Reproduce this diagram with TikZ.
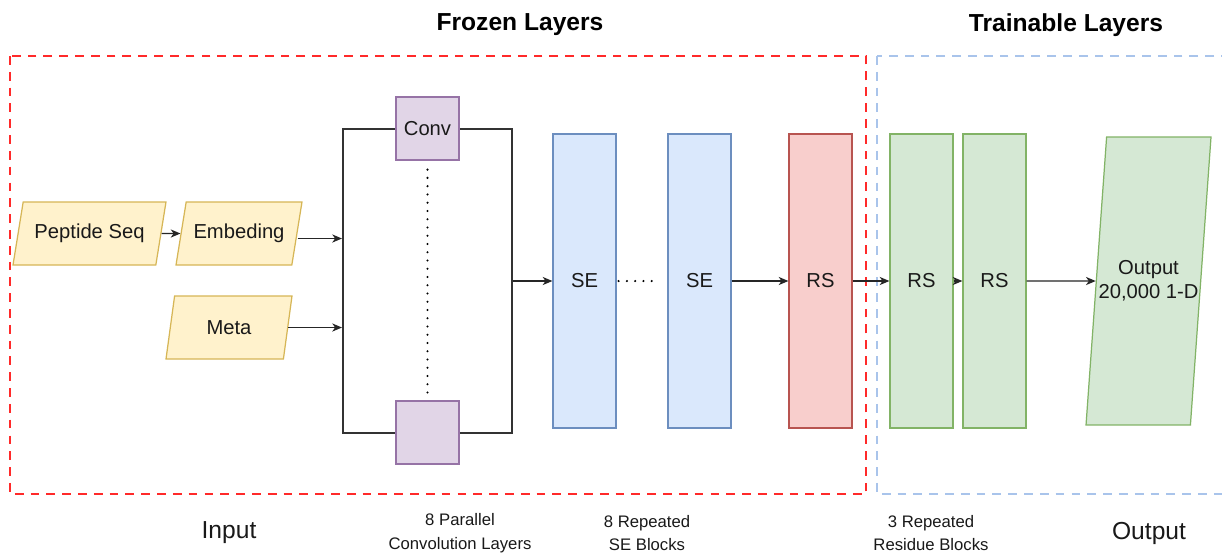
\documentclass[tikz,border=0pt]{standalone}
\usepackage{fontspec}
\setmainfont{Liberation Sans}
\usepackage{tikz}
\usetikzlibrary{shapes.geometric, arrows.meta}

\definecolor{yfill}{HTML}{FFF2CC}
\definecolor{ydraw}{HTML}{D6B656}
\definecolor{pfill}{HTML}{E1D5E7}
\definecolor{pdraw}{HTML}{9673A6}
\definecolor{bfill}{HTML}{DAE8FC}
\definecolor{bdraw}{HTML}{6C8EBF}
\definecolor{rfill}{HTML}{F8CECC}
\definecolor{rdraw}{HTML}{B85450}
\definecolor{gfill}{HTML}{D5E8D4}
\definecolor{gdraw}{HTML}{82B366}
\definecolor{frozenline}{HTML}{FF2A2A}
\definecolor{trainline}{HTML}{A9C4EB}

\tikzset{
    boxtext/.style={font=\fontsize{11.5}{13.5}\selectfont, text=black!90},
    iobox/.style={boxtext, draw=ydraw, fill=yfill, line width=0.7pt,
        trapezium, trapezium left angle=71.6, trapezium right angle=108.4,
        trapezium stretches body=true, inner xsep=-3pt,
        minimum height=1.26cm},
    layer/.style={boxtext, line width=0.7pt, minimum width=1.26cm, minimum height=5.88cm},
    arr/.style={-{Stealth[length=5.5pt, width=4.6pt, inset=1.6pt]}, line width=0.8pt, black!85},
    dots/.style={line width=1.3pt, line cap=round, dash pattern=on 0pt off 4.7pt},
    caption/.style={font=\fontsize{9.5}{13.6}\selectfont, align=center, text=black!90},
    bigcaption/.style={font=\fontsize{14}{16}\selectfont, text=black!90},
    title/.style={font=\fontsize{14}{16}\selectfont\bfseries}
}

\begin{document}
\begin{tikzpicture}[x=0.02cm, y=-0.02cm]
            \fill[white] (0, 0) rectangle (1222, 556);
            \useasboundingbox (0, 0) rectangle (1222, 556);
            % regions
            \draw[frozenline, line width=0.8pt, dash pattern=on 5pt off 4pt] (10, 56) rectangle (866, 494);
            \draw[trainline, line width=0.8pt, dash pattern=on 5pt off 4pt] (877, 56) rectangle (1240, 494);
            \node[title] (frozen) at (520, 25) {Frozen Layers};
            \node[title] (trainable) at (1066, 25) {Trainable Layers};
            % input
            \node[iobox, minimum width=3.06cm] (pep) at (89.5, 233.5) {Peptide Seq};
            \node[iobox, minimum width=2.52cm] (embed) at (239, 233.5) {Embeding};
            \node[iobox, minimum width=2.52cm] (meta) at (229, 327.5) {Meta};
            % parallel convolutions
            \node[draw=black!80, line width=1.2pt, minimum width=3.38cm, minimum height=6.08cm] (frame) at (427.5, 281) {};
            \node[boxtext, draw=pdraw, fill=pfill, line width=0.7pt, minimum size=1.26cm] (conv1) at (427.5, 128.5) {Conv};
            \node[draw=pdraw, fill=pfill, line width=0.7pt, minimum size=1.26cm] (conv2) at (427.5, 432.5) {};
            \draw[dots, shorten <=0.18cm, shorten >=0.08cm] (conv1.south) -- (conv2.north);
            % SE and residue blocks
            \node[layer, draw=bdraw, fill=bfill] (se1) at (584.5, 281) {SE};
            \node[layer, draw=bdraw, fill=bfill] (se2) at (699.5, 281) {SE};
            \node[layer, draw=rdraw, fill=rfill] (rs1) at (820.5, 281) {RS};
            \node[layer, draw=gdraw, fill=gfill] (rs2) at (921.5, 281) {RS};
            \node[layer, draw=gdraw, fill=gfill] (rs3) at (994.5, 281) {RS};
            \node[boxtext, draw=gdraw, fill=gfill, line width=0.7pt, align=center,
                trapezium, trapezium left angle=85.8, trapezium right angle=94.2,
                trapezium stretches body=true, inner xsep=-4.8pt, inner ysep=2.4cm,
                minimum width=2.5cm, minimum height=5.76cm] (out) at (1148.5, 281) {Output\\20,000 1-D};
            \draw[dots, shorten <=0.04cm, shorten >=0.3cm] (se1.east) -- (se2.west);
            % connectors
            \coordinate (embout) at ([yshift=-0.1cm]embed.east);
            \draw[arr] (pep.east) -- (embed.west);
            \draw[arr] (embout) -- (embout -| frame.west);
            \draw[arr] (meta.east) -- (meta.east -| frame.west);
            \draw[arr] (frame.east) -- (se1.west);
            \draw[arr] (se2.east) -- (rs1.west);
            \draw[arr] (rs1.east) -- (rs2.west);
            \draw[arr] (rs2.east) -- (rs3.west);
            \draw[arr] (rs3.east) -- (out.west);
            % captions
            \node[bigcaption] (incap) at (229, 533) {Input};
            \node[caption] (convcap) at (460, 533) {8 Parallel\\Convolution Layers};
            \node[caption] (secap) at (647, 533) {8 Repeated\\SE Blocks};
            \node[caption] (rscap) at (931, 533) {3 Repeated\\Residue Blocks};
            \node[bigcaption] (outcap) at (1149, 533) {Output};
\end{tikzpicture}
\end{document}
